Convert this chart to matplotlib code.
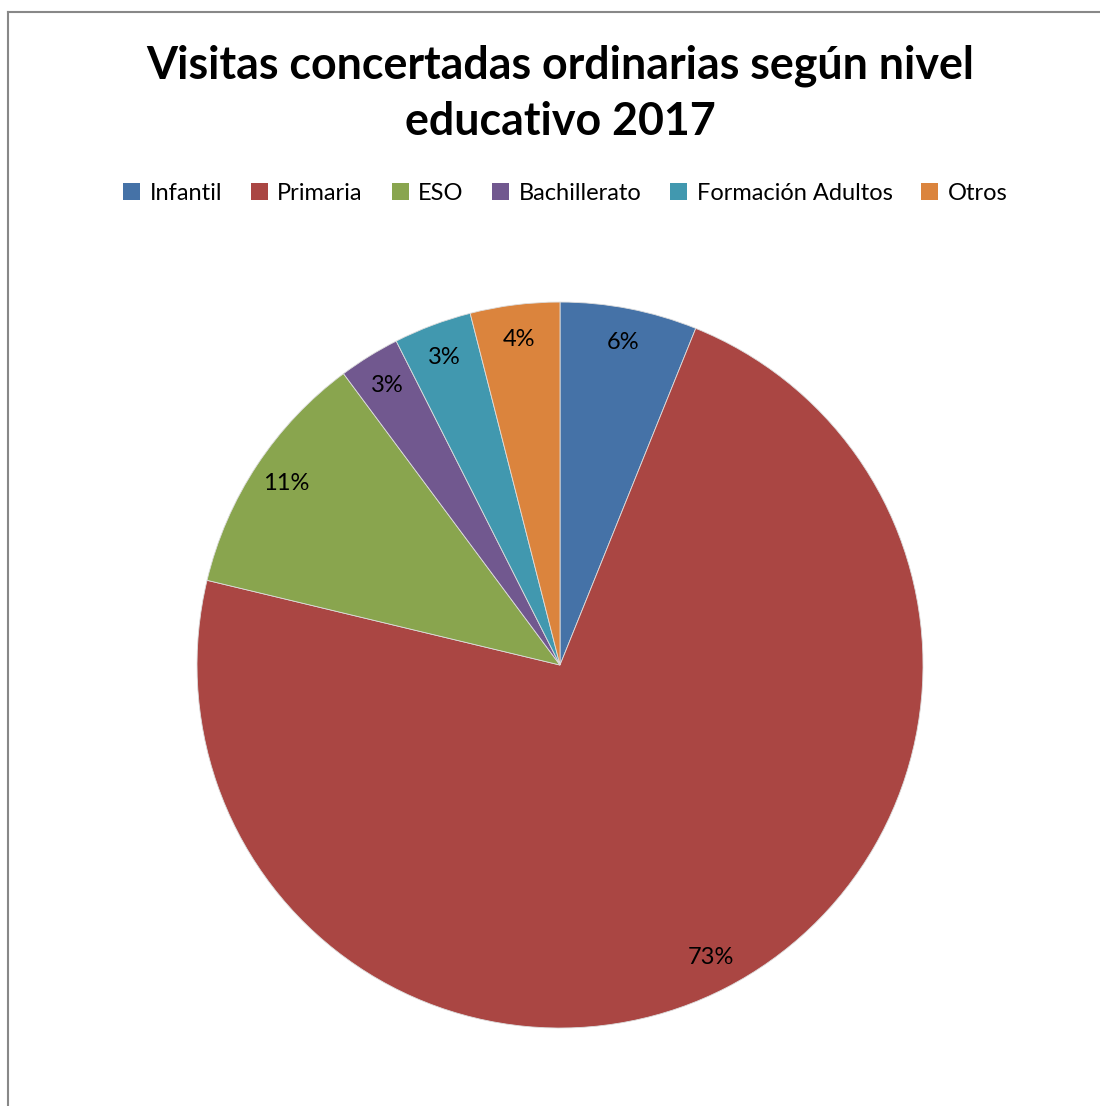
import matplotlib.pyplot as plt
from matplotlib.lines import Line2D
from matplotlib.patches import Patch

plt.rcParams['font.family'] = ['Lato', 'DejaVu Sans']

niveles = ['Infantil', 'Primaria', 'ESO', 'Bachillerato', 'Formación Adultos', 'Otros']
porcentajes = [6.1, 72.65, 11.08, 2.72, 3.47, 3.98]
colores = ['#4572A7', '#AA4643', '#89A54E', '#71588F', '#4198AF', '#DB843D']
titulo = 'Visitas concertadas ordinarias según nivel\neducativo 2017'

fig = plt.figure(figsize=(11, 11.06), dpi=100)

# marco gris (solo se ven los bordes izquierdo y superior)
fig.add_artist(Line2D([8/1100, 8/1100], [0, 1 - 12/1106], color='#888888', lw=1.5))
fig.add_artist(Line2D([8/1100, 1], [1 - 12/1106, 1 - 12/1106], color='#888888', lw=1.5))

ax = fig.add_axes([0.1791, 0.0705, 0.66, 0.6564])
ax.pie(porcentajes, colors=colores, startangle=90, counterclock=False,
       autopct=lambda p: '%.0f%%' % p, pctdistance=0.905,
       wedgeprops=dict(edgecolor='#dddddd', linewidth=0.6),
       textprops=dict(fontsize=17, color='black'))
ax.set_aspect('equal')
ax.set_xlim(-1, 1)
ax.set_ylim(-1, 1)

fig.text(0.509, 1 - 94/1106, titulo, ha='center', va='center',
         fontsize=32.2, fontweight='bold', linespacing=1.4)

handles = [Patch(facecolor=c, edgecolor='none') for c in colores]
fig.legend(handles, niveles, loc='center', bbox_to_anchor=(0.514, 1 - 193/1106),
           ncol=6, frameon=False, fontsize=17, handlelength=0.72, handleheight=0.72,
           handletextpad=0.4, columnspacing=1.22)

fig.savefig('out.png', dpi=100)
